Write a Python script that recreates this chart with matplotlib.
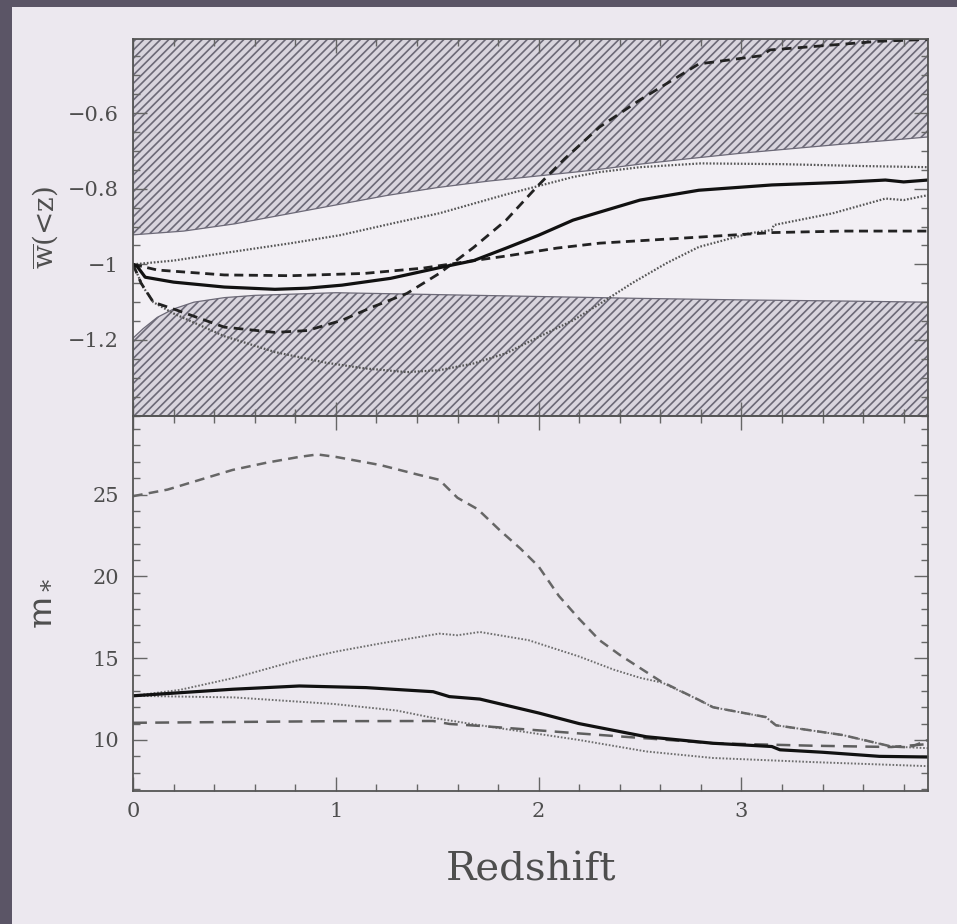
import numpy as np
import matplotlib.pyplot as plt
from matplotlib.patches import Rectangle
from matplotlib.ticker import MultipleLocator, FixedLocator, FixedFormatter

plt.rcParams['font.family'] = ['DejaVu Serif']
plt.rcParams['mathtext.fontset'] = 'dejavuserif'
plt.rcParams['hatch.linewidth'] = 1.2
plt.rcParams['lines.scale_dashes'] = False

# ---- upper panel: w(<z) ----
# excluded regions (hatched): above the upper limit and below the lower limit
z_lim_hi = [0, 0.25, 0.5, 0.75, 1.0, 1.25, 1.5, 1.75, 2.0, 2.25, 2.5, 2.75, 3.0, 3.25, 3.5, 3.75, 3.92]
w_lim_hi = [-0.922, -0.912, -0.893, -0.868, -0.843, -0.818, -0.797, -0.78, -0.766, -0.752,
            -0.735, -0.72, -0.706, -0.694, -0.682, -0.671, -0.663]
z_lim_lo = [0, 0.05, 0.12, 0.2, 0.3, 0.45, 0.6, 1.0, 1.5, 2.0, 2.5, 3.0, 3.5, 3.92]
w_lim_lo = [-1.195, -1.17, -1.14, -1.118, -1.10, -1.088, -1.082, -1.075, -1.08, -1.085,
            -1.09, -1.094, -1.097, -1.1]

z_w_solid = [0, 0.02, 0.06, 0.2, 0.45, 0.7, 0.86, 1.03, 1.27, 1.5, 1.68, 1.84, 2.0, 2.17,
             2.3, 2.5, 2.79, 3.15, 3.5, 3.71, 3.8, 3.92]
w_solid = [-1.0, -1.005, -1.034, -1.047, -1.06, -1.066, -1.063, -1.055, -1.037, -1.01, -0.99,
           -0.957, -0.923, -0.883, -0.862, -0.83, -0.804, -0.79, -0.783, -0.777, -0.782, -0.777]

z_w_dot1 = [0, 0.2, 0.45, 0.78, 1.02, 1.31, 1.51, 1.84, 2.17, 2.3, 2.5, 2.8, 3.2, 3.6, 3.92]
w_dot1 = [-1.0, -0.99, -0.97, -0.944, -0.923, -0.888, -0.865, -0.815, -0.769, -0.756, -0.743,
          -0.733, -0.735, -0.74, -0.743]

z_w_dash1 = [0, 0.12, 0.45, 0.78, 1.14, 1.43, 1.68, 1.84, 2.09, 2.3, 2.79, 3.15, 3.5, 3.92]
w_dash1 = [-1.0, -1.015, -1.028, -1.03, -1.024, -1.01, -0.99, -0.978, -0.957, -0.944, -0.928,
           -0.916, -0.912, -0.912]

z_w_dash2 = [0, 0.04, 0.1, 0.21, 0.45, 0.7, 0.86, 1.03, 1.18, 1.35, 1.51, 1.68, 1.84, 2.0,
             2.13, 2.3, 2.5, 2.79, 3.1, 3.14, 3.68, 3.92]
w_dash2 = [-1.0, -1.05, -1.1, -1.12, -1.166, -1.18, -1.175, -1.148, -1.113, -1.077, -1.024,
           -0.955, -0.883, -0.79, -0.72, -0.637, -0.565, -0.47, -0.448, -0.433, -0.41, -0.405]

z_w_dot2 = [0, 0.05, 0.1, 0.2, 0.45, 0.7, 0.95, 1.14, 1.35, 1.51, 1.68, 1.84, 2.0, 2.17, 2.3,
            2.46, 2.63, 2.79, 3.04, 3.15, 3.16, 3.45, 3.71, 3.8, 3.92]
w_dot2 = [-1.0, -1.06, -1.1, -1.13, -1.19, -1.232, -1.26, -1.275, -1.285, -1.28, -1.262,
          -1.235, -1.192, -1.148, -1.105, -1.05, -0.997, -0.954, -0.918, -0.909, -0.896,
          -0.865, -0.826, -0.83, -0.817]

# ---- lower panel: m_* ----
z_m_dash1 = [0, 0.17, 0.33, 0.49, 0.66, 0.82, 0.91, 1.0, 1.22, 1.41, 1.51, 1.6, 1.7, 1.81,
             1.91, 2.0, 2.1, 2.2, 2.3, 2.4, 2.5, 2.6, 2.79, 2.86, 3.12, 3.17, 3.5, 3.74, 3.83, 3.92]
m_dash1 = [24.9, 25.3, 25.9, 26.5, 26.95, 27.3, 27.45, 27.3, 26.8, 26.2, 25.9, 24.8, 24.1, 22.8,
           21.7, 20.6, 18.8, 17.4, 16.1, 15.2, 14.4, 13.6, 12.45, 12.0, 11.4, 10.9, 10.3, 9.6,
           9.55, 10.0]

z_m_dot1 = [0, 0.23, 0.5, 0.82, 1.0, 1.22, 1.51, 1.6, 1.71, 1.95, 2.2, 2.37, 2.5, 2.61, 2.79,
            2.86, 3.12, 3.17, 3.5, 3.74, 3.92]
m_dot1 = [12.7, 13.06, 13.8, 14.9, 15.4, 15.9, 16.5, 16.4, 16.6, 16.1, 15.1, 14.3, 13.8, 13.5,
          12.45, 12.0, 11.4, 10.9, 10.3, 9.6, 9.5]

z_m_solid = [0, 0.49, 0.82, 1.15, 1.48, 1.56, 1.71, 2.0, 2.2, 2.53, 2.86, 3.15, 3.19, 3.4,
             3.68, 3.92]
m_solid = [12.7, 13.1, 13.3, 13.2, 12.95, 12.65, 12.5, 11.65, 11.0, 10.2, 9.8, 9.6, 9.4, 9.25,
           9.0, 8.96]

z_m_dash2 = [0, 0.5, 1.0, 1.48, 1.56, 1.71, 2.2, 2.53, 2.86, 3.35, 3.74, 3.92]
m_dash2 = [11.05, 11.1, 11.15, 11.16, 10.98, 10.86, 10.4, 10.1, 9.8, 9.65, 9.57, 9.75]

z_m_dot2 = [0, 0.5, 0.99, 1.3, 1.48, 1.71, 2.2, 2.53, 2.86, 3.35, 3.92]
m_dot2 = [12.7, 12.6, 12.2, 11.8, 11.35, 10.9, 10.0, 9.3, 8.9, 8.65, 8.4]

z_ticks = [0, 1, 2, 3]
w_ticks = [-1.2, -1.0, -0.8, -0.6]
w_ticklabels = ['\u22121.2', '\u22121', '\u22120.8', '\u22120.6']
m_ticks = [10, 15, 20, 25]

ink = '#4e4e4e'

fig = plt.figure(figsize=(9.57, 9.24), dpi=100, facecolor='#5b5566')
fig.patches.append(Rectangle((12 / 957, 0), 1, 1 - 7 / 924, transform=fig.transFigure,
                             facecolor='#ece8ef', edgecolor='none', zorder=-1))

ax1 = fig.add_axes([0.139, 0.5498, 0.8307, 0.408], facecolor='#f2eff4')
ax2 = fig.add_axes([0.139, 0.1439, 0.8307, 0.4059], facecolor='none', sharex=ax1)

ax1.set_xlim(0, 3.92)
ax1.set_ylim(-1.401, -0.404)
ax2.set_ylim(6.88, 29.8)

# hatched excluded regions
top = ax1.get_ylim()[1]
bot = ax1.get_ylim()[0]
ax1.fill_between(z_lim_hi, w_lim_hi, top, facecolor='#d9d5de', edgecolor='#6c6977',
                 hatch='////', linewidth=0.9, zorder=1)
ax1.fill_between(z_lim_lo, bot, w_lim_lo, facecolor='#d9d5de', edgecolor='#6c6977',
                 hatch='////', linewidth=0.9, zorder=1)

dot = dict(color='#555555', lw=1.6, dashes=(1.2, 1.3), zorder=3)
ax1.plot(z_w_dot1, w_dot1, **dot)
ax1.plot(z_w_dot2, w_dot2, **dot)
ax1.plot(z_w_dash1, w_dash1, color='#222222', lw=2.0, dashes=(6.5, 4), zorder=3)
ax1.plot(z_w_dash2, w_dash2, color='#222222', lw=2.0, dashes=(7, 4.5), zorder=3)
ax1.plot(z_w_solid, w_solid, color='#111111', lw=2.3, zorder=4)

dot2 = dict(color='#6e6e6e', lw=1.4, dashes=(1.2, 1.3), zorder=3)
ax2.plot(z_m_dot1, m_dot1, **dot2)
ax2.plot(z_m_dot2, m_dot2, **dot2)
ax2.plot(z_m_dash1, m_dash1, color='#666666', lw=1.8, dashes=(7, 4.5), zorder=3)
ax2.plot(z_m_dash2, m_dash2, color='#5e5e5e', lw=1.8, dashes=(10, 6), zorder=3)
ax2.plot(z_m_solid, m_solid, color='#111111', lw=2.3, zorder=4)

for ax in (ax1, ax2):
    ax.xaxis.set_major_locator(FixedLocator(z_ticks))
    ax.xaxis.set_minor_locator(MultipleLocator(0.2))
    ax.tick_params(which='both', direction='in', top=True, right=True, color='#666666',
                   labelcolor=ink, labelsize=15)
    ax.tick_params(which='major', length=10, width=1.0)
    ax.tick_params(which='minor', length=5, width=1.0)
    ax.tick_params(axis='y', pad=10)
    ax.tick_params(axis='x', pad=8)
    for s in ax.spines.values():
        s.set_color('#555555')
        s.set_linewidth(1.3)
        s.set_zorder(5)

ax1.yaxis.set_major_locator(FixedLocator(w_ticks))
ax1.yaxis.set_major_formatter(FixedFormatter(w_ticklabels))
ax1.yaxis.set_minor_locator(MultipleLocator(0.05))
ax1.tick_params(axis='x', labelbottom=False)

ax2.yaxis.set_major_locator(FixedLocator(m_ticks))
ax2.yaxis.set_minor_locator(MultipleLocator(1))

ax1.set_ylabel(r'$\overline{\mathrm{w}}$(<z)', fontsize=20, color=ink)
ax1.yaxis.set_label_coords(-0.092, 0.5)
ax2.set_ylabel(r'm$_*$', fontsize=25, color=ink)
ax2.yaxis.set_label_coords(-0.097, 0.5)
ax2.set_xlabel('Redshift', fontsize=29, color=ink, labelpad=22)

fig.savefig('out.png', dpi=100, facecolor=fig.get_facecolor())
